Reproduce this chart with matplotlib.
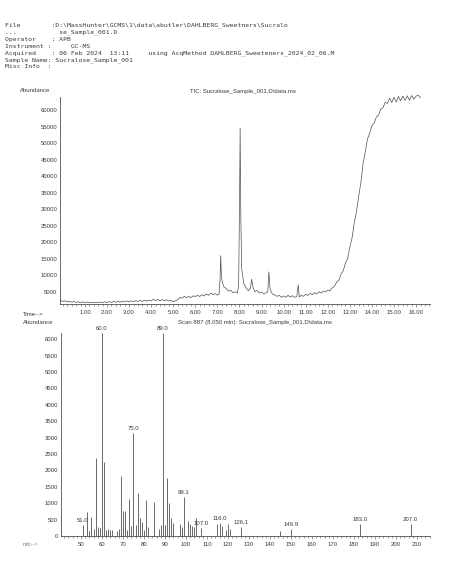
# plot.py
# TIC y espectro de masas (Scan 887) de la muestra de sucralosa
# Requiere: matplotlib

import matplotlib
matplotlib.use("Agg")
import matplotlib.pyplot as plt
from matplotlib.ticker import MultipleLocator, FormatStrFormatter

# --- Cabecera del informe ---
HEADER_LINES = [
    "File        :D:\\MassHunter\\GCMS\\1\\data\\abutler\\DAHLBERG_Sweetners\\Sucralo",
    "...           se_Sample_001.D",
    "Operator    : APB",
    "Instrument :     GC-MS",
    "Acquired    : 06 Feb 2024  13:11     using AcqMethod DAHLBERG_Sweeteners_2024_02_06.M",
    "Sample Name: Sucralose_Sample_001",
    "Misc Info  :",
]
HEADER_Y = [25, 32, 39, 46, 53, 60, 67]  # px desde arriba

# --- TIC (tiempo en min, abundancia) ---
tic_time = [
    -0.10, 0.00, 0.10, 0.20, 0.30, 0.40, 0.50, 0.60, 0.70, 0.80, 0.90,
    1.00, 1.10, 1.20, 1.30, 1.40, 1.50, 1.60, 1.70, 1.80, 1.90,
    2.00, 2.10, 2.20, 2.30, 2.40, 2.50, 2.60, 2.70, 2.80, 2.90,
    3.00, 3.10, 3.20, 3.30, 3.40, 3.50, 3.60, 3.70, 3.80, 3.90,
    4.00, 4.10, 4.20, 4.30, 4.40, 4.50, 4.60, 4.70, 4.80, 4.90,
    5.00, 5.10, 5.20, 5.30, 5.40, 5.50, 5.60, 5.70, 5.80, 5.90,
    6.00, 6.10, 6.20, 6.30, 6.40, 6.50, 6.60, 6.70, 6.80, 6.90,
    7.00, 7.08, 7.12, 7.15, 7.18, 7.22, 7.30, 7.40, 7.50, 7.60, 7.70, 7.80, 7.90,
    7.96, 8.00, 8.03, 8.06, 8.10, 8.20, 8.30, 8.40, 8.50, 8.55, 8.60, 8.70, 8.80, 8.90,
    9.00, 9.10, 9.20, 9.28, 9.33, 9.38, 9.45, 9.50, 9.60, 9.70, 9.80, 9.90,
    10.00, 10.10, 10.20, 10.30, 10.40, 10.50, 10.60, 10.66, 10.71, 10.80, 10.90,
    11.00, 11.10, 11.20, 11.30, 11.40, 11.50, 11.60, 11.70, 11.80, 11.90,
    12.00, 12.10, 12.20, 12.30, 12.40, 12.50, 12.60, 12.70, 12.80, 12.90,
    13.00, 13.10, 13.20, 13.30, 13.40, 13.50, 13.60, 13.70, 13.80, 13.90,
    14.00, 14.10, 14.20, 14.30, 14.40, 14.50, 14.60, 14.70, 14.80, 14.90,
    15.00, 15.10, 15.20, 15.30, 15.40, 15.50, 15.60, 15.70, 15.80, 15.90,
    16.00, 16.10, 16.20,
]
tic_abund = [
    2400, 2050, 2250, 1900, 2150, 1850, 2050, 1750, 1950, 1700, 1900,
    1650, 1900, 1650, 1850, 1600, 1850, 1650, 1900, 1650, 1950,
    1750, 2000, 1750, 2050, 1800, 2100, 1850, 2150, 1900, 2200,
    1950, 2250, 2000, 2300, 2050, 2350, 2100, 2400, 2150, 2450,
    2200, 2750, 2300, 2650, 2250, 2600, 2300, 2550, 2200, 2350,
    1950, 2300, 2500, 3300, 3000, 3650, 3150, 3600, 3200, 3750,
    3550, 3900, 3550, 4100, 3700, 4300, 3900, 4600, 4100, 4450,
    3950, 4400, 9000, 15900, 10000, 7800, 6400, 6000, 5200, 5500, 4700, 5000, 4600,
    6500, 30000, 54500, 28000, 12000, 7300, 6200, 5300, 6100, 8800, 6600, 5000, 5400, 4600,
    4900, 4300, 4700, 5000, 11000, 6200, 4700, 4300, 4000, 3600, 3900, 3300,
    3700, 3300, 3900, 3400, 3800, 3300, 3600, 7100, 3400, 3900, 3600,
    4200, 3900, 4500, 4100, 4700, 4300, 5000, 4600, 5200, 4900,
    5500, 5300, 6200, 6600, 7900, 8400, 10300, 11300, 13700, 15100,
    18600, 21300, 25900, 29200, 33900, 38100, 43900, 47400, 51300, 53000,
    55300, 56000, 57900, 58500, 60300, 60700, 62300, 62000, 63600, 62300,
    63900, 62400, 64100, 62800, 64200, 62900, 64300, 63000, 64400, 63300,
    64200, 64500, 63700,
]

# --- Espectro de masas, Scan 887 (8.050 min) ---
ms_mz = [51.0, 53.0, 54.0, 55.0, 56.0, 57.0, 58.0, 59.0, 60.0, 61.0, 62.0, 63.0,
         64.0, 65.0, 67.0, 68.0, 69.0, 70.0, 71.0, 72.0, 73.0, 74.0, 75.0, 76.0,
         77.0, 78.0, 79.0, 80.0, 81.0, 82.0, 85.0, 87.0, 88.0, 89.0, 90.0, 91.0,
         92.0, 93.0, 94.0, 97.0, 98.0, 99.1, 101.0, 102.0, 103.0, 104.0, 105.0,
         107.0, 115.0, 116.0, 117.0, 119.0, 120.0, 121.0, 126.1, 145.0, 149.9,
         183.0, 207.0]
ms_abund = [335, 720, 150, 575, 200, 2380, 280, 240, 6180, 2270, 180, 200,
            190, 180, 150, 200, 1830, 760, 760, 170, 1140, 320, 3150, 350,
            1300, 550, 420, 180, 1100, 280, 1030, 200, 330, 6180, 350, 1780,
            1000, 550, 400, 380, 280, 1200, 470, 380, 300, 280, 550,
            230, 370, 400, 300, 170, 360, 200, 280, 160, 200,
            355, 375]
ms_labels = [51.0, 60.0, 75.0, 89.0, 99.1, 107.0, 116.0, 126.1, 149.9, 183.0, 207.0]

W, H = 452, 586
INK = "#3a3a3a"
LINE = "#505050"
SANS = "Liberation Sans"
MONO = "DejaVu Sans Mono"

fig = plt.figure(figsize=(W / 100, H / 100), dpi=100)


def fx(px):
    return px / W


def fy(py):
    return 1 - py / H


def style_axes(ax):
    for s in ["top", "right"]:
        ax.spines[s].set_visible(False)
    for s in ["left", "bottom"]:
        ax.spines[s].set_color(LINE)
        ax.spines[s].set_linewidth(0.6)
    ax.tick_params(axis="y", length=0, pad=2, labelsize=4.3, labelcolor=INK)
    ax.tick_params(axis="x", which="major", length=2.0, width=0.4, color=LINE,
                   pad=2.5, labelsize=4.3, labelcolor=INK)
    ax.tick_params(axis="x", which="minor", length=1.2, width=0.4, color=LINE)
    for lab in ax.get_xticklabels() + ax.get_yticklabels():
        lab.set_family(SANS)


# cabecera
for txt, y in zip(HEADER_LINES, HEADER_Y):
    fig.text(fx(5), fy(y), txt, family=MONO, fontsize=4.6, color=INK, va="center")

# --- TIC ---
ax1 = fig.add_axes([fx(60), fy(304), fx(430) - fx(60), fy(97) - fy(304)])
ax1.plot(tic_time, tic_abund, color=LINE, lw=0.5, clip_on=False)
ax1.set_xlim(-0.13, 16.63)
ax1.set_ylim(1280, 63950)
ax1.set_yticks(range(5000, 60001, 5000))
ax1.set_xticks([float(t) for t in range(1, 17)])
ax1.xaxis.set_major_formatter(FormatStrFormatter("%.2f"))
ax1.xaxis.set_minor_locator(MultipleLocator(0.2))
style_axes(ax1)
fig.text(fx(20), fy(91), "Abundance", family=SANS, fontsize=4.3, color=INK, va="center")
fig.text(fx(243), fy(91), "TIC: Sucralose_Sample_001.D\\data.ms", family=SANS,
         fontsize=4.3, color=INK, va="center", ha="center")
fig.text(fx(23), fy(314), "Time-->", family=SANS, fontsize=4.3, color=INK, va="center")

# --- Espectro ---
ax2 = fig.add_axes([fx(61), fy(536), fx(430) - fx(61), fy(333) - fy(536)])
ax2.vlines(ms_mz, 0, ms_abund, color=LINE, lw=0.6, clip_on=False)
ax2.set_xlim(40.5, 216.2)
ax2.set_ylim(0, 6190)
ax2.set_yticks(range(0, 6001, 500))
ax2.set_xticks(range(50, 211, 10))
ax2.xaxis.set_minor_locator(MultipleLocator(2))
style_axes(ax2)
for mz, ab in zip(ms_mz, ms_abund):
    if mz in ms_labels:
        ax2.annotate(f"{mz:.1f}", (mz, ab), xytext=(0, 1.5), textcoords="offset points",
                     ha="center", va="bottom", family=SANS, fontsize=4.3, color=INK,
                     annotation_clip=False)
fig.text(fx(23), fy(322), "Abundance", family=SANS, fontsize=4.3, color=INK, va="center")
fig.text(fx(255), fy(322.5), "Scan 887 (8.050 min): Sucralose_Sample_001.D\\data.ms",
         family=SANS, fontsize=4.3, color=INK, va="center", ha="center")
fig.text(fx(23), fy(544), "m/z-->", family=SANS, fontsize=4.0, color="#777777", va="center")

fig.savefig("out.png", dpi=100)
